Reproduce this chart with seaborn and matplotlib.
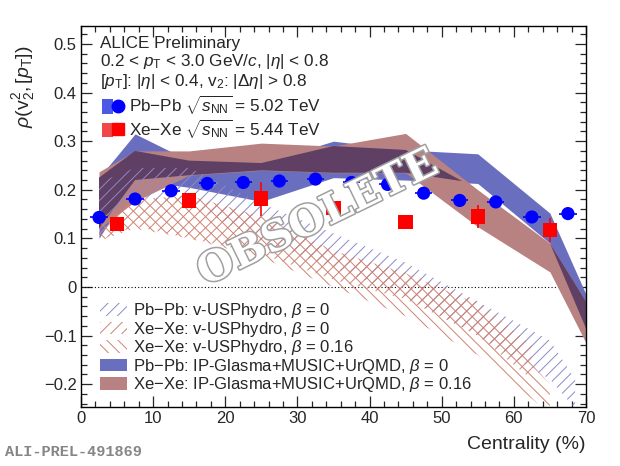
import numpy as np
import matplotlib
matplotlib.use("Agg")
import matplotlib.pyplot as plt
import matplotlib.patheffects as pe
from matplotlib.patches import Patch
from matplotlib.lines import Line2D
from matplotlib.legend_handler import HandlerTuple
from matplotlib.ticker import MultipleLocator, FuncFormatter
import seaborn as sns

sns.set_style("ticks")
plt.rcParams['font.family'] = ['Liberation Sans', 'DejaVu Sans']
plt.rcParams['mathtext.fontset'] = 'custom'
plt.rcParams['mathtext.rm'] = 'Liberation Sans'
plt.rcParams['mathtext.it'] = 'Liberation Sans:italic'
plt.rcParams['mathtext.bf'] = 'Liberation Sans:bold'
plt.rcParams['hatch.linewidth'] = 0.7

# ALICE data points
pbpb_x = [2.5, 7.5, 12.5, 17.5, 22.5, 27.5, 32.5, 37.5, 42.5, 47.5, 52.5, 57.5, 62.5, 67.5]
pbpb_y = [0.143, 0.181, 0.198, 0.213, 0.215, 0.218, 0.222, 0.215, 0.211, 0.193, 0.178, 0.175, 0.144, 0.151]
pbpb_err = [0.005, 0.004, 0.004, 0.004, 0.004, 0.004, 0.004, 0.004, 0.005, 0.005, 0.005, 0.005, 0.006, 0.006]

xexe_x = [5, 15, 25, 35, 45, 55, 65]
xexe_y = [0.129, 0.178, 0.182, 0.163, 0.134, 0.145, 0.117]
xexe_err = [0.008, 0.006, 0.035, 0.014, 0.007, 0.024, 0.024]

# IP-Glasma+MUSIC+UrQMD bands
ipg_x = [2.5, 7.5, 15, 25, 35, 45, 55, 65, 70]
pbpb_ipg_lo = [0.100, 0.220, 0.205, 0.176, 0.225, 0.220, 0.213, 0.090, -0.085]
pbpb_ipg_hi = [0.225, 0.315, 0.260, 0.255, 0.300, 0.282, 0.274, 0.152, -0.015]
xexe_ipg_lo = [0.120, 0.176, 0.230, 0.240, 0.235, 0.235, 0.124, 0.031, -0.115]
xexe_ipg_hi = [0.237, 0.280, 0.280, 0.296, 0.290, 0.316, 0.200, 0.090, -0.030]

# v-USPhydro bands
pbpb_vus_x = [2.5, 7.5, 15, 25, 35, 45, 55, 65, 68.5]
pbpb_vus_lo = [0.130, 0.185, 0.170, 0.095, 0.040, -0.020, -0.100, -0.190, -0.250]
pbpb_vus_hi = [0.215, 0.245, 0.245, 0.172, 0.110, 0.050, -0.030, -0.110, -0.190]

xexe_vus0_x = [2.5, 7.5, 15, 25, 35, 45, 55, 62.5]
xexe_vus0_lo = [0.095, 0.125, 0.100, 0.068, 0.015, -0.025, -0.100, -0.190]
xexe_vus0_hi = [0.140, 0.180, 0.188, 0.145, 0.075, 0.030, -0.030, -0.120]

xexe_vus16_x = [2.5, 7.5, 15, 25, 35, 45, 55, 65]
xexe_vus16_lo = [0.095, 0.120, 0.100, 0.060, 0.000, -0.060, -0.140, -0.260]
xexe_vus16_hi = [0.140, 0.180, 0.188, 0.145, 0.075, 0.028, -0.035, -0.200]

blue_band = '#6a6ebe'
brown_band = '#b98282'
dark_band = '#5f3f64'
blue_hatch = '#8a8acc'
brown_hatch = '#cf8272'

fig = plt.figure(figsize=(6.2, 4.66), dpi=100)
ax = fig.add_axes([0.1306, 0.1266, 0.8145, 0.8176])

ax.axhline(0, color='black', ls=(0, (1, 2)), lw=0.8, zorder=1)

# model bands (overlap drawn in its own darker colour)
ax.fill_between(ipg_x, pbpb_ipg_lo, pbpb_ipg_hi, color=blue_band, lw=0, zorder=2)
ax.fill_between(ipg_x, xexe_ipg_lo, xexe_ipg_hi, color=brown_band, lw=0, zorder=2)
ov_lo = np.maximum(pbpb_ipg_lo, xexe_ipg_lo)
ov_hi = np.minimum(pbpb_ipg_hi, xexe_ipg_hi)
ax.fill_between(ipg_x, ov_lo, ov_hi, where=ov_hi > ov_lo, interpolate=True,
                color=dark_band, lw=0, zorder=2.1)

ax.fill_between(pbpb_vus_x, pbpb_vus_lo, pbpb_vus_hi, facecolor='none',
                edgecolor=blue_hatch, hatch='///', lw=0, zorder=3)
ax.fill_between(xexe_vus0_x, xexe_vus0_lo, xexe_vus0_hi, facecolor='none',
                edgecolor=brown_hatch, hatch='///', lw=0, zorder=3)
ax.fill_between(xexe_vus16_x, xexe_vus16_lo, xexe_vus16_hi, facecolor='none',
                edgecolor=brown_hatch, hatch='\\\\\\', lw=0, zorder=3)

# data
ax.errorbar(pbpb_x, pbpb_y, yerr=pbpb_err, xerr=1.2, fmt='none', ecolor='blue',
            elinewidth=1.2, zorder=4)
ax.errorbar(xexe_x, xexe_y, yerr=xexe_err, fmt='none', ecolor='red',
            elinewidth=1.2, zorder=4)
sns.scatterplot(x=pbpb_x, y=pbpb_y, marker='o', s=90, color='blue',
                edgecolor='none', ax=ax, zorder=5)
sns.scatterplot(x=xexe_x, y=xexe_y, marker='s', s=105, color='red',
                edgecolor='none', ax=ax, zorder=5)

ax.set_xlim(0, 70)
ax.set_ylim(-0.247, 0.537)
ax.xaxis.set_major_locator(MultipleLocator(10))
ax.xaxis.set_minor_locator(MultipleLocator(2))
ax.yaxis.set_major_locator(MultipleLocator(0.1))
ax.yaxis.set_minor_locator(MultipleLocator(0.02))
ax.yaxis.set_major_formatter(FuncFormatter(
    lambda v, _: '0' if abs(v) < 1e-9 else f'{v:.1f}'.replace('-', '\u2212')))
ax.tick_params(which='both', direction='in', top=True, right=True, labelsize=12, width=0.9)
ax.tick_params(which='major', length=8, pad=3)
ax.tick_params(which='minor', length=4)
for s in ax.spines.values():
    s.set_linewidth(1.0)
    s.set_color('black')

ax.set_xlabel('Centrality (%)', loc='right', fontsize=14, labelpad=7)
ax.set_ylabel(r'$\rho(\mathrm{v}_{2}^{2},[p_{\mathrm{T}}])$', loc='top', fontsize=14)
ax.yaxis.set_label_coords(-0.087, 0.95)

# header text
ax.text(0.0376, 0.955, 'ALICE Preliminary', transform=ax.transAxes, fontsize=12.3, va='center')
ax.text(0.0376, 0.906, r'0.2 < $p_{\mathrm{T}}$ < 3.0 GeV/$c$, |$\eta$| < 0.8',
        transform=ax.transAxes, fontsize=12.3, va='center')
ax.text(0.0376, 0.854, r'[$p_{\mathrm{T}}$]: |$\eta$| < 0.4, v$_{2}$: |$\Delta\eta$| > 0.8',
        transform=ax.transAxes, fontsize=12.3, va='center')

data_handles = [
    (Patch(facecolor='#4a5ae6', edgecolor='none'),
     Line2D([], [], marker='o', color='blue', ls='none', ms=9)),
    (Patch(facecolor='#f04848', edgecolor='none'),
     Line2D([], [], marker='s', color='red', ls='none', ms=9)),
]
data_labels = [r'Pb$-$Pb $\sqrt{s_{\mathrm{NN}}}$ = 5.02 TeV',
               r'Xe$-$Xe $\sqrt{s_{\mathrm{NN}}}$ = 5.44 TeV']
leg1 = ax.legend(data_handles, data_labels, handler_map={tuple: HandlerTuple(ndivide=None)},
                 loc='upper left', bbox_to_anchor=(0.041, 0.822), frameon=False,
                 fontsize=12.3, handlelength=1.29, handleheight=0.94, handletextpad=0.3,
                 labelspacing=0.05, borderpad=0, borderaxespad=0)
ax.add_artist(leg1)

model_handles = [
    Patch(facecolor='none', edgecolor=blue_hatch, hatch='///', lw=0),
    Patch(facecolor='none', edgecolor=brown_hatch, hatch='///', lw=0),
    Patch(facecolor='none', edgecolor=brown_hatch, hatch='\\\\\\', lw=0),
    Patch(facecolor=blue_band, edgecolor='none'),
    Patch(facecolor=brown_band, edgecolor='none'),
]
model_labels = [r'Pb$-$Pb: v-USPhydro, $\beta$ = 0',
                r'Xe$-$Xe: v-USPhydro, $\beta$ = 0',
                r'Xe$-$Xe: v-USPhydro, $\beta$ = 0.16',
                r'Pb$-$Pb: IP-Glasma+MUSIC+UrQMD, $\beta$ = 0',
                r'Xe$-$Xe: IP-Glasma+MUSIC+UrQMD, $\beta$ = 0.16']
ax.legend(model_handles, model_labels, loc='lower left', bbox_to_anchor=(0.0376, 0.033),
          frameon=False, fontsize=12, handlelength=1.62, handleheight=0.78,
          handletextpad=0.35, labelspacing=-0.03, borderpad=0, borderaxespad=0)

ax.text(32.8, 0.142, 'OBSOLETE', rotation=26, rotation_mode='anchor', ha='center',
        va='center', fontsize=30, family='DejaVu Serif', weight='bold', color='white',
        path_effects=[pe.withStroke(linewidth=2.2, foreground='#a0a0a0')], zorder=6)

fig.text(0.008, 0.022, 'ALI-PREL-491869', family='Liberation Mono', weight='bold',
         color='#858585', fontsize=11)

fig.savefig('out.png', dpi=100)
